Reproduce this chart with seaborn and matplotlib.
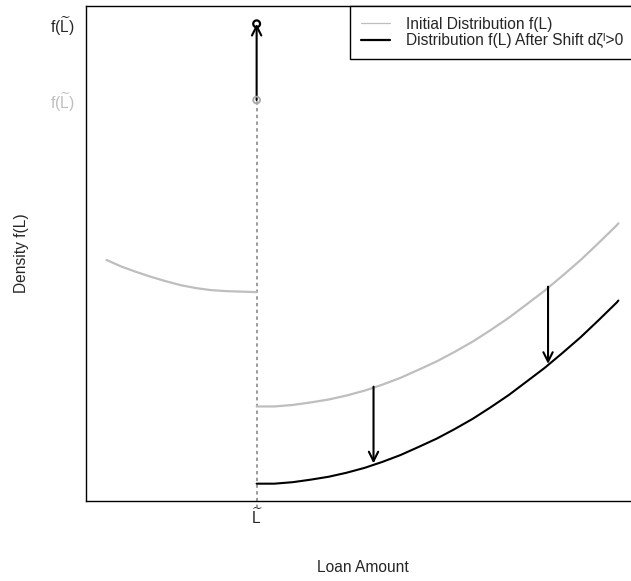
import numpy as np
import pandas as pd
import matplotlib
matplotlib.use("Agg")
import matplotlib.pyplot as plt
import seaborn as sns

# Valores (escala arbitrária 0-100)
L_TILDE = 30.8

x_left = [3.7, 6.3, 9.0, 11.7, 14.4, 17.1, 19.9, 22.6, 25.3, 28.0, 30.8]
y_left = [48.7, 47.4, 46.3, 45.3, 44.4, 43.6, 43.0, 42.6, 42.4, 42.3, 42.2]

x_right = [30.8, 34.0, 37.3, 40.5, 43.8, 47.0, 50.3, 53.5, 56.8, 60.0, 63.3,
           66.5, 69.8, 73.0, 76.3, 79.5, 82.8, 86.0, 89.3, 92.5, 95.8, 96.1]
y_initial = [19.1, 19.1, 19.4, 19.9, 20.5, 21.3, 22.3, 23.5, 24.9, 26.5, 28.2,
             30.1, 32.2, 34.5, 37.0, 39.7, 42.5, 45.5, 48.7, 52.1, 55.7, 56.1]
y_shifted = [3.5, 3.5, 3.8, 4.3, 4.9, 5.7, 6.7, 7.9, 9.3, 10.9, 12.6,
             14.5, 16.6, 18.9, 21.4, 24.1, 26.9, 29.9, 33.1, 36.5, 40.1, 40.5]

f_initial = 81.0
f_shifted = 96.4

arrow_x = [51.9, 83.4]
arrow_from = [23.1, 43.3]
arrow_to = [7.6, 27.7]

GREY = "#BEBEBE"

sns.set_style("white")
plt.rcParams['font.family'] = ['Liberation Sans', 'DejaVu Sans']
plt.rcParams['mathtext.fontset'] = 'custom'
plt.rcParams['mathtext.rm'] = 'Liberation Sans'
plt.rcParams['mathtext.it'] = 'Liberation Sans:italic'
plt.rcParams['mathtext.sf'] = 'Liberation Sans'
FS = 11.2

fig = plt.figure(figsize=(6.31, 5.81), dpi=100)
ax = fig.add_axes([86 / 631, 80 / 581, 554 / 631, 495 / 581])

df_left = pd.DataFrame({"x": x_left, "y": y_left})
df_right = pd.DataFrame({"x": x_right, "ini": y_initial, "new": y_shifted})

sns.lineplot(data=df_left, x="x", y="y", ax=ax, color=GREY, lw=1.6,
             sort=False, estimator=None)
sns.lineplot(data=df_right, x="x", y="ini", ax=ax, color=GREY, lw=1.6,
             sort=False, estimator=None)
sns.lineplot(data=df_right, x="x", y="new", ax=ax, color="black", lw=1.5,
             sort=False, estimator=None)

# linha tracejada até o ponto inicial
ax.plot([L_TILDE, L_TILDE], [-1.5, f_initial], color="#808080", lw=1.1,
        linestyle=(0, (2.2, 2.2)), zorder=1, clip_on=False)

# setas de deslocamento
aprops = dict(arrowstyle="->,head_length=0.6,head_width=0.3", lw=1.5,
              color="black", shrinkA=0, shrinkB=0)
for xa, y0, y1 in zip(arrow_x, arrow_from, arrow_to):
    ax.annotate("", xy=(xa, y1), xytext=(xa, y0), arrowprops=aprops,
                fontsize=FS)
ax.annotate("", xy=(L_TILDE, f_shifted), xytext=(L_TILDE, f_initial),
            arrowprops=aprops, fontsize=FS)

sns.scatterplot(x=[L_TILDE], y=[f_initial], ax=ax, s=24, facecolor="none",
                edgecolor="#A8A8A8", linewidth=1.3, zorder=5)
sns.scatterplot(x=[L_TILDE], y=[f_shifted], ax=ax, s=24, facecolor="none",
                edgecolor="black", linewidth=1.6, zorder=5)

ax.set_xlim(0, 100)
ax.set_ylim(0, 100)

ax.set_xticks([L_TILDE])
ax.set_xticklabels([r"$\mathrm{\widetilde{L}}$"], fontsize=FS)
ax.set_yticks([f_initial, f_shifted])
ax.set_yticklabels([r"f($\mathrm{\widetilde{L}}$)",
                    r"f($\mathrm{\widetilde{L}}$)"], fontsize=FS)
ax.get_yticklabels()[0].set_color(GREY)
ax.tick_params(axis="both", length=0)
ax.tick_params(axis="y", pad=8)
ax.tick_params(axis="x", pad=4)

ax.set_xlabel("Loan Amount", fontsize=FS)
ax.set_ylabel("Density f(L)", fontsize=FS)
ax.xaxis.set_label_coords(0.5, -0.12)
ax.yaxis.set_label_coords(-0.103, 0.5)

for side in ["left", "bottom", "top"]:
    ax.spines[side].set_color("black")
    ax.spines[side].set_linewidth(1.0)
ax.spines["right"].set_visible(False)

h1, = ax.plot([], [], color=GREY, lw=0.9)
h2, = ax.plot([], [], color="black", lw=1.6)
leg = ax.legend([h1, h2],
                ["Initial Distribution f(L)",
                 "Distribution f(L) After Shift dζ\u02e1>0"],
                loc="upper left", bbox_to_anchor=(350 / 631, 1 - 6 / 581),
                bbox_transform=fig.transFigure, borderaxespad=0,
                fontsize=FS, frameon=True, fancybox=False, framealpha=1,
                edgecolor="black", labelspacing=0.1, borderpad=0.7,
                handlelength=1.9, handletextpad=1.0)
leg.get_frame().set_linewidth(1.0)

fig.savefig("out.png", dpi=100)
